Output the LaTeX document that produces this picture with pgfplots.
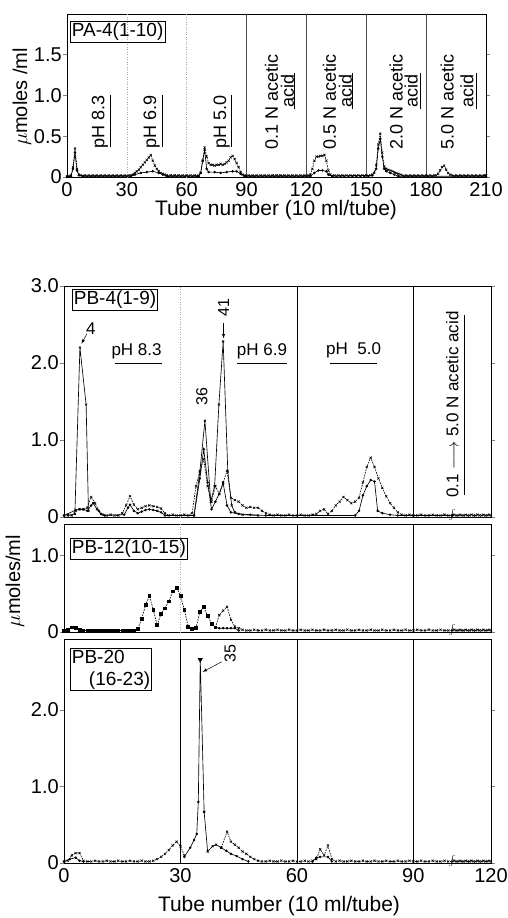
\documentclass[border=0pt]{standalone}
\usepackage{fontspec}
\setmainfont{Liberation Sans}
\usepackage{pgfplots}
\pgfplotsset{compat=1.18}
\pgfplotsset{
 base/.style={scale only axis, clip=false,
   axis line style={line width=0.8pt},
   tick label style={font=\fontsize{20}{24}\selectfont},
   /pgf/number format/assume math mode=true,
   xtick style={draw=none},
   ytick style={line width=0.7pt}, tick align=outside, major tick length=4pt,
   xticklabel style={inner sep=1pt},
   yticklabel style={inner sep=1pt},
   every axis plot/.append style={line width=0.65pt},
 },
 sx/.style={black, dash pattern=on 1.6pt off 1.1pt, mark=x, mark size=1.5pt, mark options={solid, line width=0.55pt}},
 sd/.style={black, solid, mark=*, mark size=0.9pt},
 sq/.style={black, dash pattern=on 1.6pt off 1.1pt, mark=square*, mark size=1.4pt, mark options={solid}},
 sl/.style={black, solid, mark=x, mark size=1.4pt},
}
\tikzset{
 lbl/.style={font=\fontsize{18}{20}\selectfont},
 boxl/.style={draw, line width=0.7pt, inner sep=1.5pt, font=\fontsize{19}{22}\selectfont},
}
\begin{document}
\begin{tikzpicture}[x=1pt,y=1pt]
\useasboundingbox (0,0) rectangle (508,-918);

% ---------------- Top panel PA-4 ----------------
\begin{axis}[base, at={(67pt,-177pt)}, anchor=south west, width=419pt, height=163pt,
  xmin=0, xmax=210, ymin=0, ymax=2.0, xtick={0,30,...,210},
  ytick={0,0.5,1,1.5}, yticklabels={0,0.5,1.0,1.5}]
\draw[gray!70, dotted, line width=0.5pt] (axis cs:30,0) -- (axis cs:30,2);
\draw[gray!70, dotted, line width=0.5pt] (axis cs:60,0) -- (axis cs:60,2);
\pgfplotsinvokeforeach{90,120,150,180}{\draw[gray!60!black, line width=0.45pt] (axis cs:#1,0) -- (axis cs:#1,2);}
\addplot[sx] coordinates {(0,.01)(1,.01)(2,.02)(3,.12)(4,.35)(5,.1)(6,.03)(7,.02)
(8,.01)(9,.02)(10,.01)(11,.02)(12,.01)(13,.02)(14,.01)(15,.02)(16,.01)(17,.02)(18,.01)(19,.02)(20,.01)(21,.02)(22,.01)(23,.02)(24,.01)(25,.02)(26,.01)(27,.02)(28,.01)(29,.02)(30,.01)(31,.02)(32,.02)
(33,.03)(34,.05)(35,.07)(36,.09)(37,.12)(38,.15)(39,.18)(40,.21)(41,.24)(42,.27)(43,.2)(44,.14)(45,.1)(46,.07)(47,.05)(48,.04)(49,.03)(50,.02)
(51,.01)(52,.02)(53,.01)(54,.02)(55,.01)(56,.02)(57,.01)(58,.02)(59,.01)(60,.02)(61,.01)(62,.02)(63,.01)(64,.02)(65,.01)(66,.02)
(67,.05)(68,.2)(69,.36)(70,.25)(71,.17)(72,.15)(73,.15)(74,.14)(75,.15)(76,.15)(77,.16)(78,.15)(79,.16)(80,.18)(81,.2)(82,.24)(83,.26)(84,.22)(85,.17)(86,.12)(87,.06)(88,.03)(89,.02)
(90,.01)(91,.02)(92,.01)(93,.02)(94,.01)(95,.02)(96,.01)(97,.02)(98,.01)(99,.02)(100,.01)(101,.02)(102,.01)(103,.02)(104,.01)(105,.02)(106,.01)(107,.02)(108,.01)(109,.02)(110,.01)(111,.02)(112,.01)(113,.02)(114,.01)(115,.02)(116,.01)(117,.02)(118,.01)(119,.02)(120,.01)(121,.02)
(122,.03)(123,.1)(124,.2)(125,.25)(126,.25)(127,.26)(128,.26)(129,.27)(130,.2)(131,.08)(132,.03)
(133,.01)(134,.02)(135,.01)(136,.02)(137,.01)(138,.02)(139,.01)(140,.02)(141,.01)(142,.02)(143,.01)(144,.02)(145,.01)(146,.02)(147,.01)(148,.02)(149,.01)(150,.02)(151,.01)(152,.02)
(153,.03)(154,.05)(155,.15)(156,.4)(157,.53)(158,.3)(159,.13)(160,.1)(161,.09)(162,.08)(163,.07)(164,.06)(165,.05)(166,.04)(167,.03)
(168,.02)(169,.01)(170,.02)(171,.01)(172,.02)(173,.01)(174,.02)(175,.01)(176,.02)(177,.01)(178,.02)(179,.01)(180,.02)(181,.01)(182,.02)(183,.01)(184,.02)(185,.02)
(186,.04)(187,.08)(188,.12)(189,.14)(190,.09)(191,.05)(192,.03)
(193,.02)(194,.01)(195,.02)(196,.01)(197,.02)(198,.01)(199,.02)(200,.01)(201,.02)(202,.01)(203,.02)(204,.01)(205,.02)(206,.01)(207,.02)(208,.01)(209,.02)(210,.02)};
\addplot[sd] coordinates {(0,0)(2,.01)(3,.1)(4,.3)(5,.08)(6,.02)(8,.01)(32,.01)(34,.03)(37,.05)(40,.06)(43,.07)(46,.05)(48,.03)(50,.01)(66,.01)(67,.05)(68,.2)(69,.33)(70,.1)(71,.06)(74,.06)(77,.05)(80,.06)(83,.07)(85,.07)(87,.04)(89,.01)(122,.01)(124,.05)(126,.08)(128,.08)(130,.07)(131,.03)(133,.01)(153,.02)(155,.1)(156,.35)(157,.47)(158,.25)(159,.1)(160,.07)(162,.05)(164,.03)(166,.01)(210,.01)};
% labels
\node[lbl, rotate=90] at (axis cs:16.5,0.68) {pH 8.3};
\draw[line width=0.6pt] (axis cs:21.5,0.37) -- (axis cs:21.5,1.01);
\node[lbl, rotate=90] at (axis cs:42.5,0.68) {pH 6.9};
\draw[line width=0.6pt] (axis cs:48,0.37) -- (axis cs:48,1.01);
\node[lbl, rotate=90] at (axis cs:77.5,0.68) {pH 5.0};
\draw[line width=0.6pt] (axis cs:82.5,0.37) -- (axis cs:82.5,1.01);
\node[lbl, rotate=90] at (axis cs:102.5,0.92) {0.1 N acetic};
\node[lbl, rotate=90] at (axis cs:110.5,1.06) {acid};
\draw[line width=0.6pt] (axis cs:114,0.83) -- (axis cs:114,1.28);
\node[lbl, rotate=90] at (axis cs:131.5,0.92) {0.5 N acetic};
\node[lbl, rotate=90] at (axis cs:139.5,1.06) {acid};
\draw[line width=0.6pt] (axis cs:143,0.83) -- (axis cs:143,1.28);
\node[lbl, rotate=90] at (axis cs:165,0.92) {2.0 N acetic};
\node[lbl, rotate=90] at (axis cs:172.5,1.06) {acid};
\draw[line width=0.6pt] (axis cs:177,0.83) -- (axis cs:177,1.28);
\node[lbl, rotate=90] at (axis cs:190.5,0.92) {5.0 N acetic};
\node[lbl, rotate=90] at (axis cs:200.5,1.06) {acid};
\draw[line width=0.6pt] (axis cs:205,0.83) -- (axis cs:205,1.28);
\end{axis}
\node[boxl, anchor=north west] at (70,-21) {PA-4(1-10)};
\node[font=\fontsize{20}{24}\selectfont, rotate=90] at (22,-97) {$\mu$moles /ml};
\node[font=\fontsize{21}{24}\selectfont, inner sep=0pt] at (276,-210) {Tube number (10 ml/tube)};

% ---------------- PB-4 ----------------
\begin{axis}[base, at={(64pt,-517pt)}, anchor=south west, width=427pt, height=231pt,
  xmin=0, xmax=110, ymin=0, ymax=3.0, xtick=\empty,
  ytick={0,1,2,3}, yticklabels={0,1.0,2.0,3.0}]
\draw[gray!70, dotted, line width=0.5pt] (axis cs:30,0) -- (axis cs:30,3);
\pgfplotsinvokeforeach{60,90}{\draw[black, line width=0.55pt] (axis cs:#1,0) -- (axis cs:#1,3);}
\addplot[sx] coordinates {(0,.02)(1,.03)(2,.02)(3,.08)(4,.1)(5,.1)(6,.12)(7,.26)(8,.18)(9,.08)(10,.03)(11,.02)(12,.03)(13,.02)(14,.02)(15,.05)(16,.15)(17,.27)(18,.16)(19,.1)(20,.12)(21,.14)(22,.15)(23,.14)(24,.13)(25,.11)(26,.05)(27,.02)(28,.03)(29,.02)(30,.02)(31,.03)(32,.02)(33,.05)(34,.4)(35,.6)(36,.75)(37,.4)(38,.2)(39,.4)(40,.3)(41,.45)(42,.6)(43,.25)(44,.22)(45,.2)(46,.15)(47,.12)(48,.13)(49,.12)(50,.12)(51,.08)(52,.05)(53,.03)(54,.02)(55,.03)(56,.02)(57,.02)(58,.03)(59,.02)(60,.02)(61,.03)(62,.02)(63,.02)(64,.03)(65,.04)(66,.08)(67,.1)(68,.04)(69,.08)(70,.15)(71,.2)(72,.26)(73,.22)(74,.18)(75,.2)(76,.25)(77,.45)(78,.65)(79,.77)(80,.65)(81,.5)(82,.38)(83,.27)(84,.18)(85,.12)(86,.06)(87,.03)(88,.02)(89,.03)(90,.02)(91,.02)(92,.03)(93,.02)(94,.02)(95,.03)(96,.02)(97,.02)(98,.03)(99,.02)(100,.02)(100.5,.03)(101,.02)(101.5,.02)(102,.03)(102.5,.02)(103,.02)(103.5,.03)(104,.02)(104.5,.02)(105,.03)(105.5,.02)(106,.02)(106.5,.03)(107,.02)(107.5,.02)(108,.03)(108.5,.02)(109,.02)(109.5,.03)(110,.02)};
\addplot[sd] coordinates {(0,.02)(3,.09)(4,.1)(5,.1)(6,.08)(7,.15)(7.5,.18)(8.5,.1)(9.5,.04)(10.5,.02)(15.5,.03)(16.5,.12)(17,.16)(18,.08)(19,.05)(20,.07)(21,.09)(22,.1)(23,.09)(24,.08)(25,.06)(26,.02)(33.5,.02)(35,.5)(36,.88)(37,.45)(38,.1)(39,.2)(40,.3)(41,.44)(42,.15)(43,.06)(45,.04)(48,.03)(52,.02)(75,.02)(76,.08)(77,.28)(78,.4)(79,.48)(80,.46)(80.8,.08)(82,.05)(84,.03)(86,.02)(100,.02)};
\addplot[sl] coordinates {(1,.02)(2.8,.04)(4.1,2.2)(5.7,1.46)(6.3,.08)};
\addplot[sl] coordinates {(33.5,.02)(35,.59)(36.3,1.25)(37.8,.2)(38.8,.4)(39.9,1.46)(41,2.28)(42.2,.59)(43.2,.15)(44,.06)(46,.03)(50,.02)};
\node[font=\fontsize{10}{10}\selectfont] at (axis cs:100,0.02) {$\int$};
\node[font=\fontsize{17}{20}\selectfont] at (axis cs:6.9,2.45) {4};
\draw[-latex, line width=0.5pt] (axis cs:5.9,2.38) -- (axis cs:4.5,2.25);
\node[font=\fontsize{16}{18}\selectfont, rotate=90] at (axis cs:35.5,1.57) {36};
\node[font=\fontsize{16}{18}\selectfont, rotate=90] at (axis cs:41.1,2.72) {41};
\draw[-latex, line width=0.5pt] (axis cs:41.1,2.52) -- (axis cs:41.1,2.32);
\node[font=\fontsize{17}{20}\selectfont] at (axis cs:18.7,2.15) {pH 8.3};
\draw[line width=0.6pt] (axis cs:13.2,1.99) -- (axis cs:25.2,1.99);
\node[font=\fontsize{17}{20}\selectfont] at (axis cs:51,2.15) {pH 6.9};
\draw[line width=0.6pt] (axis cs:44.5,1.99) -- (axis cs:57.4,1.99);
\node[font=\fontsize{17}{20}\selectfont] at (axis cs:74.6,2.17) {pH\ \ 5.0};
\draw[line width=0.6pt] (axis cs:68.6,1.99) -- (axis cs:80.7,1.99);
\node[font=\fontsize{17}{20}\selectfont, rotate=90] at (axis cs:100,1.46) {0.1 $\longrightarrow$ 5.0 N acetic acid};
\draw[line width=0.6pt] (axis cs:103.2,0.29) -- (axis cs:103.2,2.62);
\end{axis}
\node[boxl, anchor=north west] at (72,-289) {PB-4(1-9)};

% ---------------- PB-12 ----------------
\begin{axis}[base, at={(64pt,-632pt)}, anchor=south west, width=427pt, height=108pt,
  xmin=0, xmax=110, ymin=0, ymax=1.41, xtick=\empty,
  ytick={0,1}, yticklabels={0,1.0}]
\draw[gray!70, dotted, line width=0.5pt] (axis cs:30,0) -- (axis cs:30,1.41);
\pgfplotsinvokeforeach{60,90}{\draw[black, line width=0.55pt] (axis cs:#1,0) -- (axis cs:#1,1.41);}
\addplot[sq] coordinates {(0,.02)(1,.03)(2,.06)(3,.05)(4,.03)(5,.02)(6,.02)(7,.02)(8,.02)(9,.02)(10,.02)(11,.02)(12,.02)(13,.02)(14,.02)(15,.02)(16,.02)(17,.02)(18,.02)(19,.04)(20,.17)(21,.35)(22,.47)(23,.29)(24,.09)(25,.24)(26,.31)(27,.4)(28,.53)(29,.58)(30,.47)(31,.29)(32,.07)(33,.04)(34,.05)(35,.26)(36,.33)(37,.21)(38,.11)(39,.06)};
\addplot[sd] coordinates {(39,.06)(40,.05)(41,.05)(42,.05)(43,.05)(44,.05)(45,.02)};
\addplot[sx] coordinates {(39,.06)(40,.22)(41,.28)(42,.33)(43,.16)(44,.07)(45,.05)(46,.03)(47,.02)(48,.02)(49,.03)(50,.02)(51,.02)(52,.03)(53,.02)(54,.02)(55,.03)(56,.02)(57,.02)(58,.03)(59,.02)(60,.02)(61,.03)(62,.02)(63,.02)(64,.03)(65,.02)(66,.02)(67,.03)(68,.02)(69,.02)(70,.03)(71,.02)(72,.02)(73,.03)(74,.02)(75,.02)(76,.03)(77,.02)(78,.02)(79,.03)(80,.02)(81,.02)(82,.03)(83,.02)(84,.02)(85,.03)(86,.02)(87,.02)(88,.03)(89,.02)(90,.02)(91,.03)(92,.02)(93,.02)(94,.03)(95,.02)(96,.02)(97,.03)(98,.02)(99,.02)(100,.02)(100.5,.03)(101,.02)(101.5,.02)(102,.03)(102.5,.02)(103,.02)(103.5,.03)(104,.02)(104.5,.02)(105,.03)(105.5,.02)(106,.02)(106.5,.03)(107,.02)(107.5,.02)(108,.03)(108.5,.02)(109,.02)(109.5,.03)(110,.02)};
\node[font=\fontsize{10}{10}\selectfont] at (axis cs:100,0.03) {$\int$};
\end{axis}
\node[boxl, anchor=north west] at (70,-538) {PB-12(10-15)};
\node[font=\fontsize{20}{24}\selectfont, rotate=90] at (15,-581) {$\mu$moles/ml};

% ---------------- PB-20 ----------------
\begin{axis}[base, at={(64pt,-863pt)}, anchor=south west, width=427pt, height=224pt,
  xmin=0, xmax=110, ymin=0, ymax=2.93, xtick={0,30,60,90,110}, xticklabels={0,30,60,90,120},
  ytick={0,1,2}, yticklabels={0,1.0,2.0}]
\pgfplotsinvokeforeach{30,60,90}{\draw[black, line width=0.55pt] (axis cs:#1,0) -- (axis cs:#1,2.93);}
\addplot[sx] coordinates {(0,.02)(1,.03)(2,.1)(3,.13)(4,.13)(5,.03)(6,.02)(7,.02)(8,.03)(9,.02)(10,.02)(11,.03)(12,.02)(13,.02)(14,.03)(15,.02)(16,.02)(17,.03)(18,.02)(19,.02)(20,.03)(21,.02)(22,.02)(23,.03)(24,.05)(25,.08)(26,.12)(27,.17)(28,.23)(29,.28)(30,.22)(31,.1)};
\addplot[sx] coordinates {(40.5,.2)(42,.41)(43,.28)(44,.24)(45,.2)(46,.15)(47,.12)(48,.08)(49,.05)(50,.03)(51,.02)(52,.02)(53,.03)(54,.02)(55,.02)(56,.03)(57,.02)(58,.02)(59,.03)(60,.02)(61,.02)(62,.03)(63,.02)(64,.03)(65,.05)(66,.18)(67,.1)(68,.23)(69,.05)(70,.02)(71,.03)(72,.02)(73,.02)(74,.03)(75,.02)(76,.02)(77,.03)(78,.02)(79,.02)(80,.03)(81,.02)(82,.02)(83,.03)(84,.02)(85,.02)(86,.03)(87,.02)(88,.02)(89,.03)(90,.02)(91,.02)(92,.03)(93,.02)(94,.02)(95,.03)(96,.02)(97,.02)(98,.03)(99,.02)(100,.02)(100.5,.03)(101,.02)(101.5,.02)(102,.03)(102.5,.02)(103,.02)(103.5,.03)(104,.02)(104.5,.02)(105,.03)(105.5,.02)(106,.02)(106.5,.03)(107,.02)(107.5,.02)(108,.03)(108.5,.02)(109,.02)(109.5,.03)(110,.02)};
\addplot[sd] coordinates {(0,.02)(1.5,.05)(3,.07)(4,.03)(5,.02)};
\addplot[sd] coordinates {(31,.08)(32.5,.2)(33.5,.3)(34.2,.38)(34.6,.8)(35.1,2.66)(36.1,.67)};
\addplot[sl] coordinates {(36.1,.67)(37,.15)(38.3,.22)(39.2,.24)(40.5,.2)};
\addplot[sd] coordinates {(40.5,.2)(41.8,.16)(43,.12)(44.5,.09)(46,.05)(47.5,.02)};
\addplot[sd] coordinates {(64,.02)(65,.07)(66,.08)(68,.08)(69,.02)};
\addplot[only marks, mark=triangle*, mark size=2.4pt, mark options={rotate=180}] coordinates {(35.1,2.66)};
\node[font=\fontsize{10}{10}\selectfont] at (axis cs:100,0.03) {$\int$};
\node[font=\fontsize{16}{18}\selectfont, rotate=90] at (axis cs:42.8,2.74) {35};
\draw[-latex, line width=0.5pt] (axis cs:40.6,2.63) -- (axis cs:35.7,2.5);
\end{axis}
\node[boxl, anchor=north west, align=left] at (70,-648) {PB-20\\\hspace*{0.9em}(16-23)};
\node[font=\fontsize{21}{24}\selectfont, inner sep=0pt] at (279,-906) {Tube number (10 ml/tube)};
\end{tikzpicture}
\end{document}
